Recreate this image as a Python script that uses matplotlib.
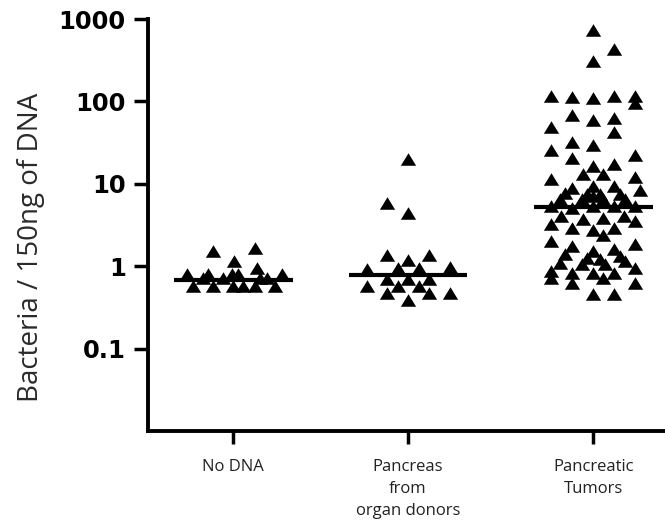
import numpy as np
import matplotlib.pyplot as plt

# ------------------------------------------------------------
# data
# ------------------------------------------------------------
groups = ["No DNA", "Pancreas\nfrom\norgan donors", "Pancreatic\nTumors"]

no_dna = [1.52, 1.66, 1.15, 0.95, 0.80, 0.80, 0.71, 0.71, 0.80, 0.80,
          0.71, 0.71, 0.80, 0.57, 0.57, 0.57, 0.57, 0.57, 0.57]

donors = [20.2, 5.86, 4.43, 1.36, 1.18, 1.36, 0.92, 0.95, 0.95, 0.97,
          0.70, 0.70, 0.70, 0.57, 0.57, 0.57, 0.47, 0.47, 0.47, 0.385]

tumors = [734, 431, 307, 115, 112, 109, 118, 118, 97, 69,
          60, 63, 49.5, 43, 32.6, 30, 26, 20.7, 22.5, 16.6,
          17.5, 13.3, 13.3, 11.5, 12.2, 8.9, 9.5, 9.5, 8.4, 7.8,
          7.55, 7.55, 7.55, 6.6, 6.6, 7.2, 6.6, 6.6, 5.4, 5.1,
          5.4, 5.4, 5.4, 4.07, 3.74, 3.85, 4.07, 3.54, 3.25, 2.9,
          2.75, 2.9, 2.39, 2.02, 1.75, 1.85, 1.52, 1.61, 1.4, 1.32,
          1.25, 1.22, 1.09, 1.07, 1.07, 1.15, 0.95, 0.87, 0.82, 0.82,
          0.82, 0.71, 0.62, 0.73, 0.62, 0.455, 0.455]

medians = [0.675, 0.78, 5.25]

# horizontal scatter of the points (pixels of the original, 175 px = 1 group step)
no_dna_dx = [-20, 22, 1, 24, -46, -25, -30, -10, -1, 5,
             27, 34, 49, -40, -20, 0, 10, 22, 42]
donors_dx = [0, -21, 0, -21, 0, 21, -41, -10, 11, 42,
             -21, 0, 21, -41, -10, 11, -21, 21, 42, 0]
tumors_dx = [0, 21, 0, -42, -21, 0, 21, 42, 42, -21,
             0, 21, -42, 21, -21, 0, -42, -21, 42, 0,
             21, -10, 10, -42, 42, -21, 0, 21, 47, -28,
             -6, 7, 27, -33, -11, 0, 10, 32, -42, -21,
             0, 21, 42, -32, -10, 10, 31, 42, -42, -21,
             0, 21, 10, -42, -21, 42, 0, 21, -28, 27,
             -6, 7, -33, -11, 12, 32, 42, -42, -21, 0,
             21, -42, -21, 10, 42, 0, 21]

positions = [1.0, 2.0, 3.06]
values = [no_dna, donors, tumors]
offsets = [no_dna_dx, donors_dx, tumors_dx]

# slightly flattened triangle, like the original
tri = [(-1, -0.82), (1, -0.82), (0, 0.82), (-1, -0.82)]

# ------------------------------------------------------------
# plot
# ------------------------------------------------------------
fig = plt.figure(figsize=(6.65, 5.24), dpi=100)
ax = fig.add_axes([0.2226, 0.1775, 0.7774, 0.786])

for pos, vals, dx, med in zip(positions, values, offsets, medians):
    xs = pos + np.array(dx) / 175.0
    ax.plot(xs, vals, linestyle='none', marker=tri, markersize=11,
            color='black', markeredgewidth=0)
    ax.plot([pos - 0.34, pos + 0.34], [med, med], color='black',
            linewidth=3, solid_capstyle='butt')

ax.set_yscale('log')
ax.set_ylim(0.01, 1000)
ax.set_xlim(0.514, 3.469)
ax.minorticks_off()

ax.set_yticks([0.1, 1, 10, 100, 1000])
ax.set_yticklabels(['0.1', '1', '10', '100', '1000'],
                   fontfamily='DejaVu Sans', fontweight='bold', fontsize=17.5)
ax.set_xticks(positions)
ax.set_xticklabels(groups, fontfamily='Open Sans', fontsize=12,
                   linespacing=1.5, color='#222222')

ax.tick_params(axis='y', direction='out', length=10, width=2.5, pad=6)
ax.tick_params(axis='x', direction='out', length=9.5, width=2.5, pad=11)

for side in ['top', 'right']:
    ax.spines[side].set_visible(False)
for side in ['left', 'bottom']:
    ax.spines[side].set_linewidth(2.8)

ax.set_ylabel("Bacteria / 150ng of DNA", fontfamily='Open Sans',
              fontsize=20, color='#2a2a2a')
ax.yaxis.set_label_coords(-0.200, 0.445)

plt.savefig("out.png", dpi=100)
plt.close()
